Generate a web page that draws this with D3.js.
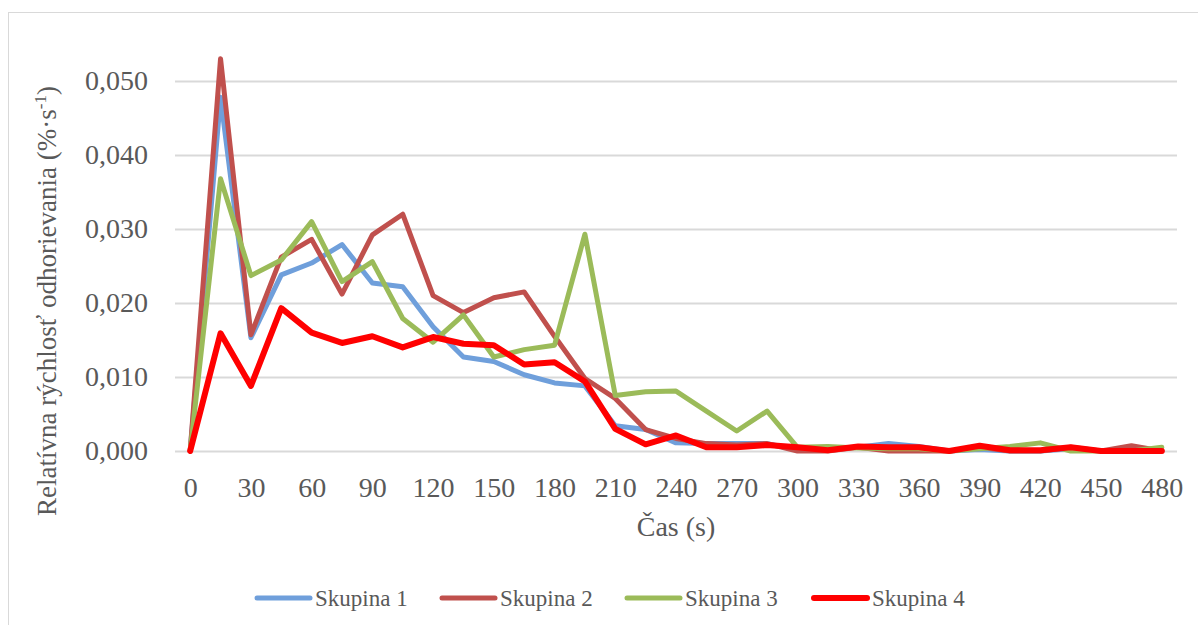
<!DOCTYPE html>
<html><head><meta charset="utf-8">
<script src="https://cdn.jsdelivr.net/npm/d3@7/dist/d3.min.js"></script>
<style>body{margin:0;background:#fff;}svg{display:block;font-family:"Liberation Serif","Times New Roman",serif;}</style>
</head><body><svg id="c" width="1198" height="625"></svg>
<script>
const times = [0,15,30,45,60,75,90,105,120,135,150,165,180,195,210,225,240,255,270,285,300,315,330,345,360,375,390,405,420,435,450,465,480];
const xTickLabels = [0,30,60,90,120,150,180,210,240,270,300,330,360,390,420,450,480];
const yTicks = [0,0.01,0.02,0.03,0.04,0.05];
const seriesNames = ["Skupina 1","Skupina 2","Skupina 3","Skupina 4"];
const skupina1 = [0,0.0478,0.0153,0.0238,0.0254,0.0279,0.0227,0.0222,0.0168,0.0127,0.0121,0.0103,0.0092,0.0088,0.0034,0.0029,0.0011,0.001,0.001,0.001,0.0002,0.0003,0.0005,0.001,0.0006,0,0.0002,0,0,0.0003,0,0.0003,0];
const skupina2 = [0,0.0530,0.0157,0.0262,0.0286,0.0212,0.0292,0.0320,0.0210,0.0187,0.0207,0.0215,0.0155,0.0098,0.0071,0.0029,0.0017,0.001,0.0008,0.001,0,0,0.0005,0,0,0,0.0005,0,0,0.0005,0,0.0007,0];
const skupina3 = [0,0.0368,0.0237,0.0258,0.0310,0.0229,0.0256,0.0179,0.0147,0.0184,0.0127,0.0137,0.0143,0.0293,0.0075,0.0080,0.0081,0.0054,0.0027,0.0054,0.0005,0.0006,0.0004,0.0003,0.0003,0,0.0003,0.0006,0.0011,0,0,0,0.0005];
const skupina4 = [0,0.0159,0.0088,0.0193,0.0160,0.0146,0.0155,0.0140,0.0154,0.0145,0.0143,0.0117,0.0120,0.0094,0.0030,0.0009,0.0021,0.0005,0.0005,0.0008,0.0005,0.0001,0.0006,0.0005,0.0005,0,0.0007,0.0001,0.0001,0.0005,0,0,0];
const seriesValues = [skupina1, skupina2, skupina3, skupina4];
const colors = ["#6F9FDB","#C0504D","#9BBB59","#FF0000"];
const widths = [5,5,5,6];

const svg = d3.select("#c");
svg.append("rect").attr("x",8.5).attr("y",12.5).attr("width",1300).attr("height",800)
  .attr("fill","#fff").attr("stroke","#d9d9d9").attr("stroke-width",1);

const L=175, R=1177, B=451;
const x = d3.scalePoint().domain(times).range([L,R]).padding(0.5);
const y = d3.scaleLinear().domain([0,0.05]).range([B,81]);
const fmt = d => d3.format(".3f")(d).replace(".",",");

const yAxis = d3.axisLeft(y).tickValues(yTicks).tickSize(-(R-L)).tickFormat(fmt).tickPadding(27);
const gy = svg.append("g").attr("transform",`translate(${L},0)`).call(yAxis);
gy.select(".domain").remove();
gy.selectAll(".tick line").attr("stroke","#d9d9d9").attr("stroke-width",2);
gy.selectAll(".tick text").attr("fill","#595959").attr("font-size",28).attr("font-family","Liberation Serif");

const xAxis = d3.axisBottom(x).tickValues(xTickLabels).tickSize(0).tickPadding(26);
const gx = svg.append("g").attr("transform",`translate(0,${B})`).call(xAxis);
gx.select(".domain").remove();
gx.selectAll(".tick text").attr("fill","#595959").attr("font-size",28).attr("font-family","Liberation Serif");

const line = d3.line().x((d,i)=>x(times[i])).y(d=>y(d));
seriesValues.forEach((vals,k)=>{
  svg.append("path").datum(vals).attr("d",line).attr("fill","none")
    .attr("stroke",colors[k]).attr("stroke-width",widths[k])
    .attr("stroke-linejoin","round").attr("stroke-linecap","round");
});

svg.append("text").attr("x",(L+R)/2).attr("y",536).attr("text-anchor","middle")
  .attr("fill","#595959").attr("font-size",28).text("Čas (s)");

const yt = svg.append("text").attr("transform","translate(56,301) rotate(-90)").attr("text-anchor","middle")
  .attr("fill","#595959").attr("font-size",27);
yt.append("tspan").text("Relatívna rýchlosť odhorievania (%·s");
yt.append("tspan").attr("font-size",17).attr("dy",-10).text("-1");
yt.append("tspan").attr("dy",10).text(")");

const legX = [257,442,627,814];
seriesNames.forEach((n,k)=>{
  const g = svg.append("g").attr("transform",`translate(${legX[k]},598)`);
  g.append("line").attr("x1",0).attr("x2",53).attr("y1",0).attr("y2",0)
    .attr("stroke",colors[k]).attr("stroke-width",widths[k]).attr("stroke-linecap","round");
  g.append("text").attr("x",58).attr("y",8).attr("fill","#595959").attr("font-size",23).text(n);
});
</script></body></html>
